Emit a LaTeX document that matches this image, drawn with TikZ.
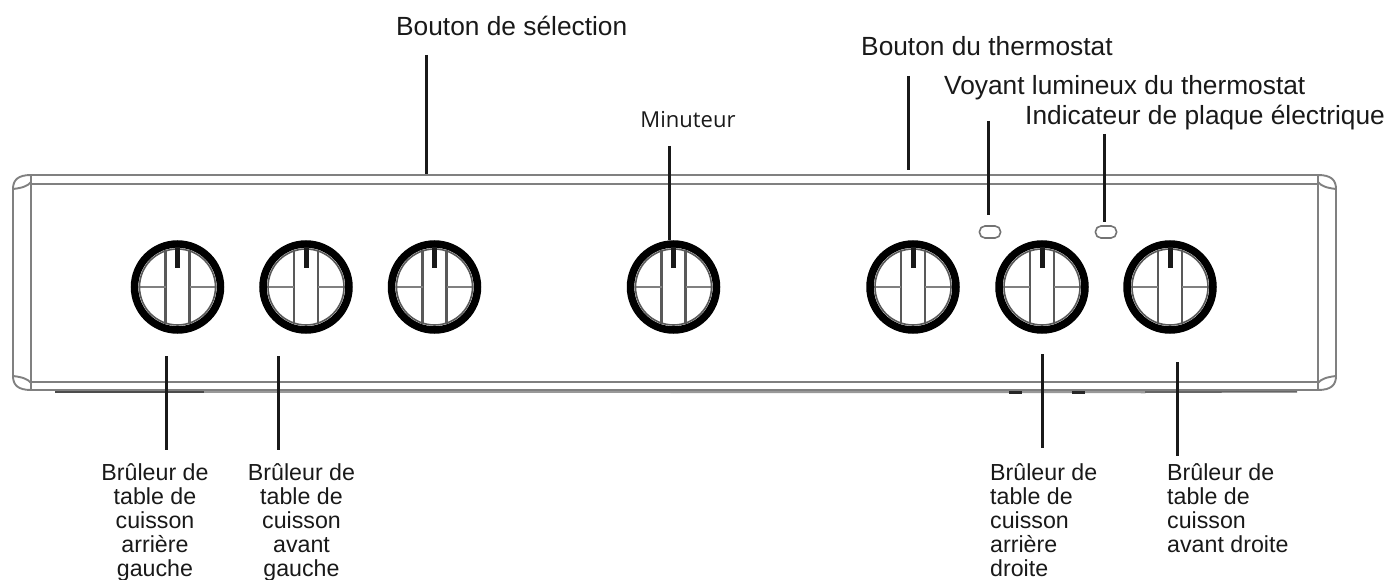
\documentclass[tikz,border=0pt]{standalone}
\usepackage{fontspec}
\setmainfont{Liberation Sans}
\newfontfamily\opensans{Open Sans}
\tikzset{
  panelline/.style={draw=black!50,line width=1.9pt},
  leader/.style={draw=black!90,line width=3pt},
  lab/.style={font=\fontsize{26.3}{28}\selectfont,text=black!90,inner sep=0pt,anchor=base west},
  small/.style={font=\fontsize{23.2}{24}\selectfont,text=black!90,inner sep=0pt,align=center,anchor=base},
  smallleft/.style={font=\fontsize{23.2}{24}\selectfont,text=black!90,inner sep=0pt,align=left,anchor=base west},
  lamp/.style={draw=black!55,line width=1.6pt,rounded corners=5.5pt,fill=white,minimum width=21pt,minimum height=12pt,inner sep=0pt},
}
\newcommand{\knobat}[2]{%
  \begin{scope}[shift={(#1,#2)}]
    \draw[black!65,line width=2.4pt] (-12,-37) -- (-12,37) (12,-37) -- (12,37);
    \draw[black!50,line width=1.8pt] (-38,0) -- (-12,0) (12,0) -- (38,0);
    \draw[black!65,line width=1.6pt] (0,0) circle[radius=38];
    \draw[black,line width=7.5pt] (0,0) circle[radius=43];
    \draw[black!90,line width=5pt] (0,-40) -- (0,-19);
  \end{scope}}
\begin{document}
\begin{tikzpicture}[x=1pt,y=-1pt]
\useasboundingbox (0,0) rectangle (1389,580);
% panel
\draw[black!40,line width=3.5pt] (204,391) -- (1145,391.5);
\draw[black!70,line width=3pt] (55,391.5) -- (204,391.5);
\draw[black!60,line width=3pt] (1145,391.5) -- (1297,391);
\draw[black!85,line width=3pt] (1009,392) -- (1022,392) (1072,392) -- (1085,392);
\draw[panelline] (30,175) -- (1318,175) (30,184) -- (1318,184)
   (30,382) -- (1318,382) (30,390) -- (1318,390);
\draw[panelline] (31,175) -- (31,390) (1318,175) -- (1318,390);
\draw[panelline] (31,175) .. controls (18,175) and (13,180) .. (13,189) -- (13,376) .. controls (13,385) and (18,390) .. (31,390);
\draw[panelline] (1318,175) .. controls (1331,175) and (1336,180) .. (1336,189) -- (1336,376) .. controls (1336,385) and (1331,390) .. (1318,390);
\draw[panelline] (13,189) .. controls (22,188) and (28,186) .. (31,182);
\draw[panelline] (13,376) .. controls (22,377) and (28,379) .. (31,383);
\draw[panelline] (1336,189) .. controls (1327,188) and (1321,186) .. (1318,182);
\draw[panelline] (1336,376) .. controls (1327,377) and (1321,379) .. (1318,383);
% knobs
\knobat{177.5}{287}\knobat{306}{287}\knobat{434.5}{287}\knobat{673.5}{287}\knobat{913}{287}\knobat{1042}{287}\knobat{1170}{287}
% lamps
\node[lamp] (lampa) at (990,232) {};
\node[lamp] (lampb) at (1106,232) {};
% labels
\node[lab] (selection) at (396,36) {Bouton de sélection};
\node[lab] (thermo) at (861,56) {Bouton du thermostat};
\node[lab] (voyant) at (944,95) {Voyant lumineux du thermostat};
\node[lab] (plaque) at (1025,125) {Indicateur de plaque électrique};
\node[inner sep=0pt,anchor=base,text=black!90] (minut) at (688,128) {\opensans\fontsize{22}{24}\selectfont Minuteur};
\node[small] (bl1) at (155,576) {Brûleur de\\table de\\cuisson\\arrière\\gauche};
\node[small] (bl2) at (301.5,576) {Brûleur de\\table de\\cuisson\\avant\\gauche};
\node[smallleft] (bl3) at (990,576) {Brûleur de\\table de\\cuisson\\arrière\\droite};
\node[smallleft] (bl4) at (1167,552) {Brûleur de\\table de\\cuisson\\avant droite};
% leader ends
\coordinate (a1) at (426.5,55);\coordinate (a2) at (426.5,174);
\coordinate (b1) at (669,146);\coordinate (b2) at (669,240);
\coordinate (c1) at (908,76);\coordinate (c2) at (908,170);
\coordinate (d1) at (988,121);\coordinate (d2) at (988,215);
\coordinate (e1) at (1104,134);\coordinate (e2) at (1104,222);
\coordinate (f1) at (166.5,356);\coordinate (f2) at (166.5,450);
\coordinate (g1) at (278,356);\coordinate (g2) at (278,450);
\coordinate (h1) at (1042,354);\coordinate (h2) at (1042,448);
\coordinate (i1) at (1177,362);\coordinate (i2) at (1177,456);
\foreach \p/\q in {a1/a2,b1/b2,c1/c2,d1/d2,e1/e2,f1/f2,g1/g2,h1/h2,i1/i2}{\draw[leader] (\p) -- (\q);}
\end{tikzpicture}
\end{document}
